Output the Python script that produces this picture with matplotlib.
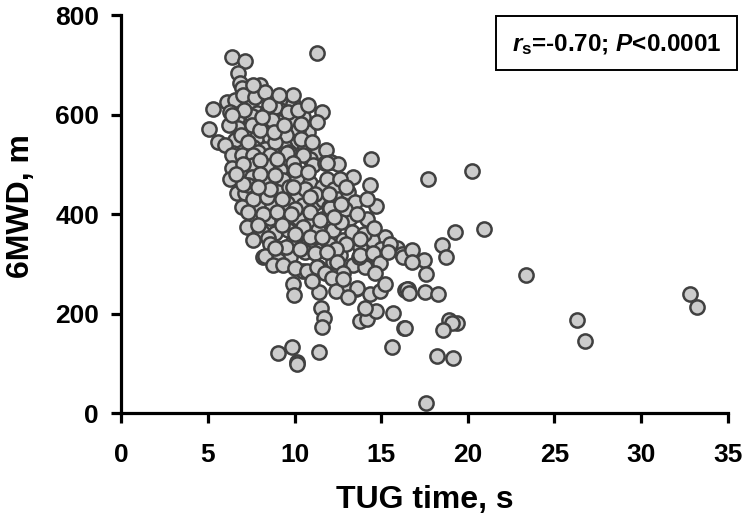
import numpy as np
import matplotlib
matplotlib.use("Agg")
import matplotlib.pyplot as plt
from matplotlib.patches import Rectangle

plt.rcParams['font.family'] = ['Liberation Sans', 'DejaVu Sans']
plt.rcParams['font.weight'] = 'bold'
plt.rcParams['mathtext.fontset'] = 'custom'
plt.rcParams['mathtext.it'] = 'Liberation Sans:italic:bold'
plt.rcParams['mathtext.rm'] = 'Liberation Sans:bold'

# upper part of the cloud (6MWD > ~500 m)
tug_upper = [6.37, 7.13, 11.31, 6.75, 6.85, 8.0, 7.38, 6.94, 5.27, 6.11, 6.56, 7.42, 8.77, 9.35,
             9.93, 11.57, 10.5, 7.81, 8.39, 9.16, 5.07, 5.59, 6.66, 7.52, 6.75, 7.52, 8.29, 9.16,
             9.93, 10.79, 10.21, 6.56, 7.81, 8.58, 9.06, 9.93, 9.45, 8.29, 7.61, 6.46, 10.6, 11.28,
             7.0, 7.7, 8.3, 8.9, 9.6, 10.2, 6.3, 7.1, 6.9, 7.3, 8.0, 8.7, 9.5, 10.4, 11.0, 6.2,
             7.9, 8.9, 9.7, 10.9, 11.8, 12.1, 6.4, 8.5, 9.9, 10.8, 7.6, 9.1, 11.3, 10.4, 6.0, 8.1,
             8.8, 9.4]
mwd_upper = [716, 708, 724, 684, 663, 659, 648, 653, 611, 626, 629, 623, 633, 626,
             621, 606, 596, 603, 606, 609, 571, 546, 592, 597, 573, 579, 579, 586,
             586, 566, 569, 549, 556, 554, 571, 546, 536, 532, 536, 522, 536, 522,
             640, 635, 645, 615, 605, 610, 605, 610, 560, 545, 570, 590, 560, 552, 545, 580,
             525, 545, 525, 510, 530, 505, 600, 620, 640, 620, 660, 640, 585, 582, 540, 595,
             565, 580]

# middle of the cloud (~300-520 m)
tug_middle = [6.37, 6.37, 6.27, 6.94, 7.61, 8.58, 9.54, 10.5, 7.61, 8.58, 9.16, 9.93, 11.08, 11.76,
              7.52, 8.48, 9.35, 10.12, 10.89, 11.57, 6.66, 7.13, 8.1, 9.06, 10.12, 11.18, 11.66,
              6.94, 8.0, 8.68, 9.54, 10.5, 7.71, 8.58, 9.25, 10.21, 11.08, 7.23, 8.1, 8.87, 9.64,
              10.5, 11.37, 7.61, 8.48, 8.97, 9.93, 10.79, 8.19, 9.73, 10.6, 11.47, 9.06,
              7.0, 8.0, 9.0, 10.0, 10.8, 7.3, 8.0, 8.9, 9.7, 10.6, 11.2, 7.6, 8.4, 9.3, 10.0, 10.9,
              7.3, 8.2, 9.0, 9.8, 7.9, 9.3, 10.0, 10.9, 11.8, 8.6, 9.5, 10.3, 7.0, 6.6, 11.9, 12.3,
              12.0, 12.5, 11.6, 12.2, 9.9, 8.6, 7.9, 10.9,
              14.41, 14.36, 14.68, 13.39, 12.62, 12.53, 11.85, 13.1, 13.49, 14.16, 15.22, 15.9,
              14.45, 14.84, 13.78, 12.81, 12.24, 11.47, 12.05, 13.2, 12.62, 13.39, 11.37, 12.24,
              14.07, 10.5, 11.18,
              12.9, 13.6, 12.7, 13.3, 14.0, 14.6, 13.0, 12.0, 11.6, 12.4, 13.7, 15.0, 15.5, 16.2,
              12.3, 13.0, 12.0, 12.7, 14.2, 13.8,
              8.29, 8.87, 8.77, 9.35, 10.02, 10.7, 11.28, 11.85, 12.43, 11.76, 12.81, 13.78, 14.55,
              14.93, 14.65, 15.41, 16.28, 12.14]
mwd_middle = [519, 492, 470, 519, 519, 519, 522, 519, 499, 496, 489, 502, 499, 502,
              475, 462, 469, 472, 462, 455, 442, 442, 443, 445, 439, 422, 429,
              415, 415, 419, 422, 419, 389, 392, 389, 392, 385, 375, 365, 362, 368,
              375, 368, 348, 352, 332, 345, 342, 315, 315, 325, 328, 308,
              500, 508, 510, 488, 485, 458, 480, 478, 455, 450, 440, 430, 435, 430, 410, 405,
              405, 400, 405, 400, 378, 378, 360, 355, 350, 340, 335, 330, 460, 480, 470, 450,
              415, 430, 390, 380, 455, 450, 455, 435,
              511, 459, 417, 474, 470, 501, 502, 445, 425, 390, 355, 332,
              348, 302, 335, 348, 368, 389, 412, 392, 318, 298, 295, 305,
              295, 285, 322,
              410, 400, 385, 365, 360, 372, 340, 340, 355, 330, 315, 330, 340, 320,
              395, 455, 440, 420, 430, 350,
              316, 332, 298, 298, 292, 285, 295, 325, 305, 281, 281, 318, 322,
              302, 281, 325, 315, 271]

# lower tail (< ~270 m, TUG < 17 s)
tug_lower = [9.06, 9.83, 10.16, 10.12, 11.41, 15.61, 9.93, 9.97, 11.43, 11.51, 11.72, 11.6,
             13.78, 14.2, 14.7, 14.08, 15.67, 16.34, 14.36, 14.93, 15.22, 13.53, 12.91, 12.39,
             16.4, 16.55, 10.99, 12.81, 13.59, 13.1]
mwd_lower = [122, 133, 104, 99, 123, 133, 260, 237, 243, 212, 191, 174,
             185, 190, 205, 212, 201, 171, 240, 245, 260, 249, 250, 245,
             248, 250, 265, 269, 251, 234]

# sparse points on the right
tug_sparse = [17.69, 20.27, 19.27, 20.96, 18.5, 18.75, 16.8, 17.47, 16.76, 17.59, 23.37, 16.47,
              16.63, 17.53, 18.3, 32.8, 33.23, 18.94, 19.36, 19.07, 18.59, 16.38, 26.33, 26.79,
              18.21, 19.17, 17.59]
mwd_sparse = [470, 486, 364, 370, 339, 314, 328, 308, 305, 279, 277, 249,
              241, 243, 239, 239, 214, 188, 181, 182, 168, 171, 188, 146,
              116, 111, 20]

tug = np.concatenate([tug_upper, tug_middle, tug_lower, tug_sparse])
mwd = np.concatenate([mwd_upper, mwd_middle, mwd_lower, mwd_sparse])

fig = plt.figure(figsize=(7.44, 5.2), dpi=100)
ax = fig.add_axes([0.163, 0.205, 0.815, 0.766])

ax.scatter(tug, mwd, s=105, facecolor='#cccccc', edgecolor='#404040', linewidth=1.8,
           zorder=3, clip_on=False)

ax.set_xlim(0, 35)
ax.set_ylim(0, 800)
ax.set_xticks(range(0, 36, 5))
ax.set_yticks(range(0, 801, 200))

for side in ['top', 'right']:
    ax.spines[side].set_visible(False)
for side in ['left', 'bottom']:
    ax.spines[side].set_linewidth(2.3)
    ax.spines[side].set_color('black')

ax.tick_params(axis='both', direction='out', length=7, width=2.3, labelsize=19, pad=9)
ax.tick_params(axis='x', pad=14)
for lab in ax.get_xticklabels() + ax.get_yticklabels():
    lab.set_fontweight('bold')

ax.set_xlabel('TUG time, s', fontsize=23, fontweight='bold')
ax.set_ylabel('6MWD, m', fontsize=23, fontweight='bold')
ax.xaxis.set_label_coords(0.5, -0.18)
ax.yaxis.set_label_coords(-0.14, 0.52)

# stats box
fig.patches.append(Rectangle((0.667, 0.866), 0.323, 0.103, transform=fig.transFigure,
                             facecolor='white', edgecolor='black', linewidth=1.4))
fig.text(0.8285, 0.914, r'$r_{\mathrm{s}}$=-0.70; $P$<0.0001', ha='center', va='center',
         fontsize=17.5, fontweight='bold')

fig.savefig('out.png', dpi=100, facecolor='white')
